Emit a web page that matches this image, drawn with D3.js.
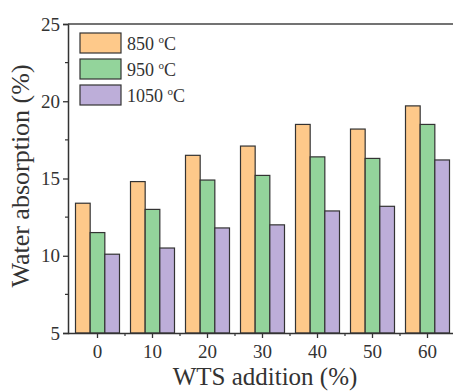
<!DOCTYPE html>
<html>
<head>
<meta charset="utf-8">
<script src="https://cdn.jsdelivr.net/npm/d3@7"></script>
<style>
  body { margin: 0; background: #fff; }
  svg { display: block; font-family: "Liberation Serif", "Times New Roman", serif; }
</style>
</head>
<body>
<div id="chart"></div>
<script>
// data
const categories = ["0", "10", "20", "30", "40", "50", "60"];
const seriesNames = ["850", "950", "1050"];
const s850 = [13.4, 14.8, 16.5, 17.1, 18.5, 18.2, 19.7];
const s950 = [11.5, 13.0, 14.9, 15.2, 16.4, 16.3, 18.5];
const s1050 = [10.1, 10.5, 11.8, 12.0, 12.9, 13.2, 16.2];
const yTicks = [5, 10, 15, 20, 25];

const colors = ["#fec98a", "#93d49b", "#bdaed9"];
const series = [s850, s950, s1050];

const W = 453, H = 392;
const mLeft = 68, mTop = 24, mBottom = 333, mRight = 455;

const svg = d3.select("#chart").append("svg")
  .attr("width", W)
  .attr("height", H);

const x = d3.scaleBand()
  .domain(categories)
  .range([mLeft + 2, mRight])
  .paddingInner(0.2)
  .paddingOuter(0.1);

const xs = d3.scaleBand()
  .domain(seriesNames)
  .range([0, x.bandwidth()]);

const y = d3.scaleLinear()
  .domain([5, 25])
  .range([mBottom, mTop]);

// bars
const rows = categories.map((c, i) => ({ cat: c, vals: series.map(s => s[i]) }));

svg.append("g")
  .selectAll("g")
  .data(rows)
  .join("g")
  .attr("transform", d => `translate(${x(d.cat)},0)`)
  .selectAll("rect")
  .data(d => d.vals.map((v, j) => ({ name: seriesNames[j], v: v, j: j })))
  .join("rect")
  .attr("x", d => xs(d.name))
  .attr("y", d => y(d.v))
  .attr("width", xs.bandwidth())
  .attr("height", d => y(5) - y(d.v))
  .attr("fill", d => colors[d.j])
  .attr("stroke", "#333")
  .attr("stroke-width", 1.2);

// y axis
const yAxis = svg.append("g")
  .attr("transform", `translate(${mLeft},0)`)
  .call(d3.axisLeft(y).tickValues(yTicks).tickSize(5).tickPadding(3));
yAxis.select(".domain").attr("stroke", "#333").attr("stroke-width", 1.5);
yAxis.selectAll(".tick line").attr("stroke", "#333").attr("stroke-width", 1.3);
yAxis.selectAll("text").attr("font-size", 19).attr("fill", "#333")
  .attr("font-family", "Liberation Serif");

// y minor ticks
svg.append("g")
  .selectAll("line")
  .data([7.5, 12.5, 17.5, 22.5])
  .join("line")
  .attr("x1", mLeft - 3).attr("x2", mLeft)
  .attr("y1", d => y(d)).attr("y2", d => y(d))
  .attr("stroke", "#333").attr("stroke-width", 1.2);

// x axis
const xAxis = svg.append("g")
  .attr("transform", `translate(0,${mBottom})`)
  .call(d3.axisBottom(x).tickSize(5).tickPadding(7).tickSizeOuter(0));
xAxis.select(".domain").attr("stroke", "#333").attr("stroke-width", 1.5)
  .attr("d", `M${mLeft},0.5H${W}`);
xAxis.selectAll(".tick line").attr("stroke", "#333").attr("stroke-width", 1.3);
xAxis.selectAll("text").attr("font-size", 19).attr("fill", "#333")
  .attr("font-family", "Liberation Serif");

// x minor ticks between groups
const step = x.step();
svg.append("g")
  .selectAll("line")
  .data(categories)
  .join("line")
  .attr("x1", d => x(d) + x.bandwidth() / 2 + step / 2)
  .attr("x2", d => x(d) + x.bandwidth() / 2 + step / 2)
  .attr("y1", mBottom).attr("y2", mBottom + 3)
  .attr("stroke", "#333").attr("stroke-width", 1.2);

// top frame line
svg.append("line")
  .attr("x1", mLeft).attr("x2", W)
  .attr("y1", mTop).attr("y2", mTop)
  .attr("stroke", "#444").attr("stroke-width", 1.5);

// axis titles
svg.append("text")
  .attr("transform", `translate(29,176) rotate(-90)`)
  .attr("text-anchor", "middle")
  .attr("font-size", 26)
  .attr("fill", "#333")
  .text("Water absorption (%)");

svg.append("text")
  .attr("x", 265)
  .attr("y", 385)
  .attr("text-anchor", "middle")
  .attr("font-size", 25)
  .attr("fill", "#333")
  .text("WTS addition (%)");

// legend
const legend = svg.append("g").attr("transform", "translate(80,33)");
const lg = legend.selectAll("g")
  .data(seriesNames)
  .join("g")
  .attr("transform", (d, i) => `translate(0,${i * 26})`);
lg.append("rect")
  .attr("width", 41).attr("height", 20)
  .attr("fill", (d, i) => colors[i])
  .attr("stroke", "#333").attr("stroke-width", 1.2);
const lt = lg.append("text")
  .attr("x", 47).attr("y", 17)
  .attr("font-size", 18)
  .attr("fill", "#333");
lt.append("tspan").text(d => d + " ");
lt.append("tspan").attr("dy", -7).attr("font-size", 11).text("o");
lt.append("tspan").attr("dy", 7).text("C");
</script>
</body>
</html>
